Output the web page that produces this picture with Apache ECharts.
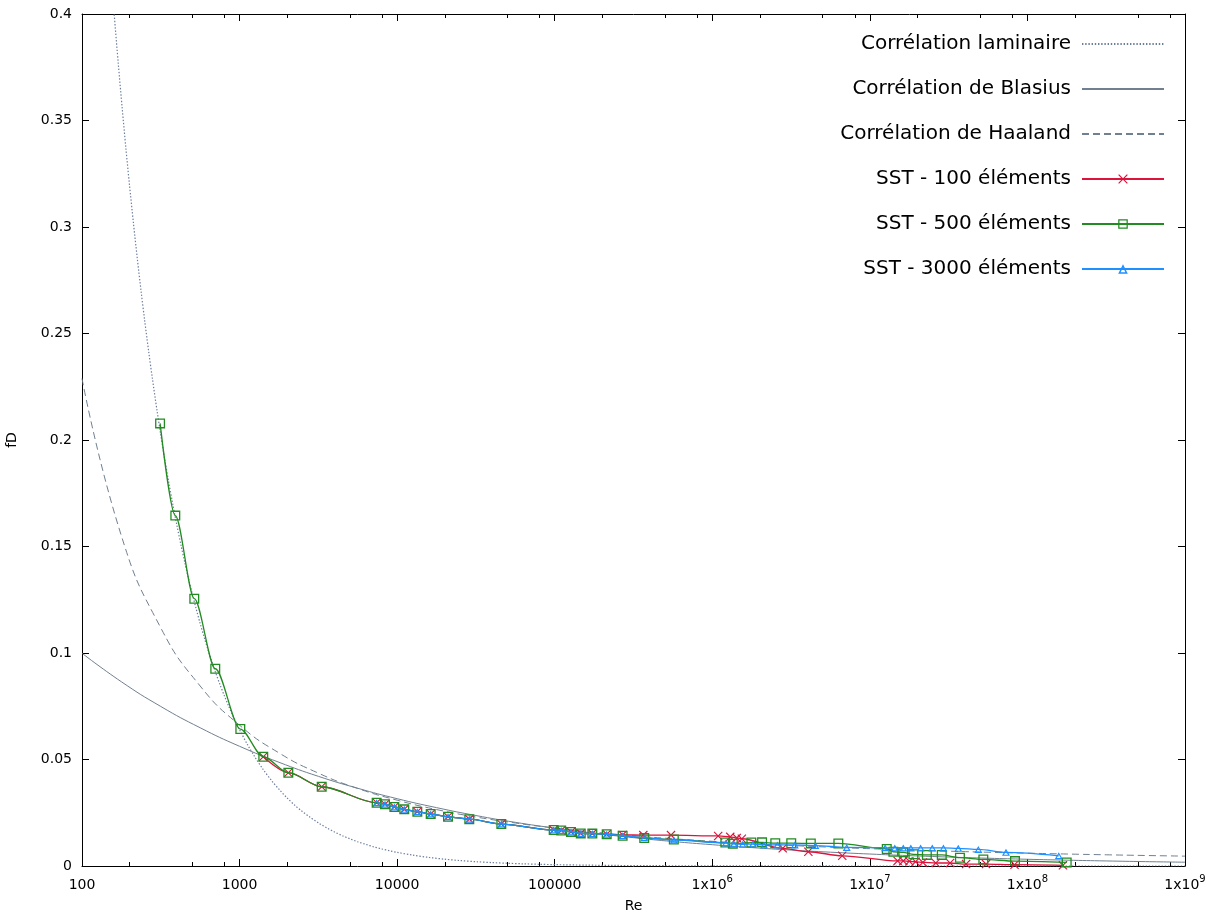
<!DOCTYPE html>
<html>
<head>
<meta charset="utf-8">
<title>Coefficient de frottement fD en fonction de Re</title>
<script src="https://cdn.jsdelivr.net/npm/echarts@6/dist/echarts.min.js"></script>
<style>
  html, body { margin: 0; padding: 0; background: #ffffff; }
  #chart { width: 1217px; height: 913px; }
</style>
</head>
<body>
<div id="chart"></div>
<script>
// Laminar correlation fD = 64/Re
const reLaminar = [150, 160, 170, 180, 190, 200, 212, 225, 237, 250, 265, 280, 300, 315, 335, 355, 375,
  400, 425, 450, 475, 500, 530, 560, 600, 630, 670, 710, 750, 800, 850, 900, 950,
  1000, 1120, 1250, 1400, 1600, 1800, 2000, 2250, 2500, 2800, 3200, 3600, 4000, 4500, 5000, 5600,
  6300, 7100, 8000, 9000, 10000, 12500, 16000, 20000, 25000, 32000, 40000, 50000, 63000, 80000,
  100000, 160000, 250000, 400000, 1000000, 10000000, 1000000000];
const fLaminar = [0.4267, 0.4, 0.3765, 0.3556, 0.3368, 0.32, 0.3019, 0.2844, 0.2700, 0.256, 0.2415,
  0.2286, 0.2133, 0.2032, 0.1910, 0.1803, 0.1707,
  0.16, 0.1506, 0.1422, 0.1347, 0.128, 0.1208, 0.1143, 0.1067, 0.1016, 0.0955, 0.0901, 0.0853, 0.08,
  0.0753, 0.0711, 0.0674,
  0.064, 0.0571, 0.0512, 0.0457, 0.04, 0.0356, 0.032, 0.0284, 0.0256, 0.0229, 0.02, 0.0178, 0.016,
  0.0142, 0.0128, 0.0114,
  0.0102, 0.0090, 0.008, 0.0071, 0.0064, 0.00512, 0.004, 0.0032, 0.00256, 0.0020, 0.0016, 0.00128,
  0.00102, 0.0008,
  0.00064, 0.0004, 0.000256, 0.00016, 0.000064, 0.0000064, 0];

// Turbulent correlations, sampled every quarter decade
const reCorr = [100, 177.8, 316.2, 562.3, 1000, 1778, 3162, 5623, 10000, 17783, 31623, 56234,
  100000, 177828, 316228, 562341, 1000000, 1778279, 3162278, 5623413, 10000000, 17782794,
  31622777, 56234133, 100000000, 177827941, 316227766, 562341325, 1000000000];
const fBlasius = [0.0999, 0.0865, 0.0749, 0.0649, 0.0562, 0.0487, 0.0421, 0.0365, 0.0316, 0.0274,
  0.0237, 0.0205, 0.0178, 0.0154, 0.0133, 0.0115, 0.0100, 0.00865, 0.00749, 0.00649, 0.00562,
  0.00487, 0.00421, 0.00365, 0.00316, 0.00274, 0.00237, 0.00205, 0.00178];
const fHaaland = [0.2289, 0.1550, 0.1118, 0.0845, 0.0661, 0.0531, 0.0436, 0.0364, 0.0309, 0.0265,
  0.0230, 0.0202, 0.0178, 0.0159, 0.0142, 0.0128, 0.0116, 0.0105, 0.00963, 0.00883, 0.00813,
  0.00751, 0.00696, 0.00646, 0.00602, 0.00562, 0.00526, 0.00493, 0.00463];

// SST simulations, 100 elements
const reSst100 = [1414, 2039, 3321, 7413, 8375, 9600, 11100, 13430, 16330, 21030, 28700, 45830,
  98500, 110000, 126900, 146300, 173300, 213800, 269800, 365000, 547000, 1090000, 1300000, 1430000,
  1540000, 2800000, 4070000, 6680000, 15000000, 16300000, 17800000, 19500000, 21700000, 26200000,
  32300000, 40800000, 54600000, 82800000, 168000000];
const fSst100 = [0.0513, 0.0438, 0.0372, 0.0297, 0.0290, 0.0277, 0.0266, 0.0255, 0.0244, 0.0231,
  0.0220, 0.0197, 0.0169, 0.0167, 0.0160, 0.0153, 0.0152, 0.0149, 0.0146, 0.0145, 0.0145, 0.0141,
  0.0137, 0.0132, 0.0128, 0.0083, 0.0067, 0.0048, 0.0024, 0.0024, 0.0022, 0.0020, 0.0017, 0.0014,
  0.0014, 0.0009, 0.0009, 0.0006, 0.0003];

// SST simulations, 500 elements
const reSst500 = [313, 391, 516, 701, 1011, 1414, 2039, 3321, 7413, 8375, 9600, 11100, 13430, 16330,
  21030, 28700, 45830, 98500, 110000, 126900, 146300, 173300, 213800, 269800, 370000, 570000,
  1210000, 1350000, 1770000, 2070000, 2510000, 3170000, 4220000, 6310000, 12800000, 14100000,
  16300000, 18900000, 23000000, 28600000, 37300000, 52500000, 83400000, 177500000];
const fSst500 = [0.2078, 0.1645, 0.1255, 0.0926, 0.0643, 0.0513, 0.0438, 0.0372, 0.0297, 0.0290,
  0.0277, 0.0266, 0.0255, 0.0244, 0.0231, 0.0220, 0.0197, 0.0169, 0.0167, 0.0160, 0.0153, 0.0152,
  0.0149, 0.0142, 0.0131, 0.0124, 0.0110, 0.0105, 0.0110, 0.0111, 0.0107, 0.0107, 0.0106, 0.0106,
  0.0080, 0.0067, 0.0064, 0.0055, 0.0052, 0.0052, 0.0039, 0.0031, 0.0023, 0.0017];

// SST simulations, 3000 elements
const reSst3000 = [7413, 8375, 9600, 11100, 13430, 16330, 21030, 28700, 45830, 98500, 110000, 126900,
  146300, 173300, 213800, 269800, 370000, 570000, 1220000, 1370000, 1560000, 1810000, 2130000,
  2590000, 3340000, 4510000, 7130000, 12500000, 14400000, 16300000, 18200000, 21000000, 24900000,
  29300000, 36400000, 48800000, 73100000, 158000000];
const fSst3000 = [0.0297, 0.0290, 0.0277, 0.0266, 0.0255, 0.0244, 0.0231, 0.0220, 0.0197, 0.0169,
  0.0167, 0.0160, 0.0153, 0.0152, 0.0149, 0.0142, 0.0133, 0.0122, 0.0108, 0.0104, 0.0102, 0.0103,
  0.0099, 0.0099, 0.0099, 0.0096, 0.0087, 0.0086, 0.0085, 0.0085, 0.0085, 0.0085, 0.0085, 0.0085,
  0.0083, 0.0078, 0.0064, 0.0048];

const seriesNames = ['Corrélation laminaire', 'Corrélation de Blasius', 'Corrélation de Haaland',
  'SST - 100 éléments', 'SST - 500 éléments', 'SST - 3000 éléments'];

// Bottom axis labels, one per decade
const xTickLabels = ['100', '1000', '10000', '100000', '1x10{e|6}', '1x10{e|7}', '1x10{e|8}', '1x10{e|9}'];
// Minor tick mantissas within each decade
const minorMantissas = [2, 5, 8];

const FONT = 'DejaVu Sans';
const GRAY = '#708090';
const DOT_GRAY = '#6a7d9c';
const RED = '#dc143c';
const GREEN = '#228b22';
const BLUE = '#1e90ff';

// Outline markers: fill rule leaves the inside transparent
const SYM_CROSS = 'path://M0,0.9 L0.9,0 L5,4.1 L9.1,0 L10,0.9 L5.9,5 L10,9.1 L9.1,10 L5,5.9 L0.9,10 L0,9.1 L4.1,5 Z';
const SYM_SQUARE = 'path://M0,0 L10,0 L10,10 L0,10 Z M1.3,1.3 L1.3,8.7 L8.7,8.7 L8.7,1.3 Z';
const SYM_TRIANGLE = 'path://M5,0 L10,8.66 L0,8.66 Z M5,2.9 L2.5,7.2 L7.5,7.2 Z';

const zip = (xs, ys) => xs.map((x, i) => [x, ys[i]]);

const minorTicks = [];
for (let d = 2; d < 9; d++) {
  minorMantissas.forEach(m => minorTicks.push([m * Math.pow(10, d), 0]));
}

const formatReLabel = v => {
  const s = xTickLabels[Math.round(Math.log10(v)) - 2] || '';
  return s.indexOf('{e|') >= 0 ? '{b|' + s.replace('{e|', '}{e|') : '{b|' + s + '}';
};

const chart = echarts.init(document.getElementById('chart'), null, { renderer: 'canvas' });

const axisCommonX = {
  type: 'log', logBase: 10, min: 100, max: 1e9,
  axisLine: { onZero: false, lineStyle: { color: '#000', width: 1 } },
  axisTick: { inside: true, length: 7, lineStyle: { color: '#000', width: 1 } },
  splitLine: { show: false },
  minorTick: { show: false }
};
const axisCommonY = {
  type: 'value', min: 0, max: 0.4, interval: 0.05,
  axisLine: { show: true, lineStyle: { color: '#000', width: 1 } },
  axisTick: { show: true, inside: true, length: 7, lineStyle: { color: '#000', width: 1 } },
  splitLine: { show: false }
};

const lineSeries = (name, re, f, extra) => Object.assign({
  name, type: 'line', data: zip(re, f), xAxisIndex: 0, yAxisIndex: 0,
  animation: false, clip: true
}, extra);

// Correlation curves have no marker; hide the legend's marker for them
const legendData = seriesNames.map((n, i) => i < 3 ? { name: n, itemStyle: { opacity: 0 } } : { name: n });

const option = {
  animation: false,
  backgroundColor: '#ffffff',
  textStyle: { fontFamily: FONT },
  grid: { left: 82, right: 32, top: 14, bottom: 47, containLabel: false, outerBoundsMode: 'none' },
  legend: {
    data: legendData,
    orient: 'vertical',
    align: 'right',
    right: 52,
    top: 34,
    padding: 0,
    itemWidth: 82,
    itemHeight: 12,
    itemGap: 25,
    selectedMode: false,
    textStyle: { fontSize: 20, color: '#000', fontFamily: FONT, padding: [0, 6, 0, 0] }
  },
  xAxis: [
    Object.assign({}, axisCommonX, {
      position: 'bottom',
      name: 'Re', nameLocation: 'middle', nameGap: 33,
      nameTextStyle: { fontSize: 14, color: '#000', fontFamily: FONT },
      axisLabel: {
        show: true, color: '#000', fontFamily: FONT, fontSize: 14, margin: 8,
        showMinLabel: true, showMaxLabel: true, hideOverlap: false,
        formatter: formatReLabel,
        rich: {
          b: { fontSize: 14, lineHeight: 22, color: '#000', fontFamily: FONT },
          e: { fontSize: 10, lineHeight: 10, verticalAlign: 'top', color: '#000', fontFamily: FONT }
        }
      }
    }),
    Object.assign({}, axisCommonX, { position: 'top', axisLabel: { show: false } })
  ],
  yAxis: [
    Object.assign({}, axisCommonY, {
      position: 'left',
      name: 'fD', nameLocation: 'middle', nameGap: 63, nameRotate: 90,
      nameTextStyle: { fontSize: 14, color: '#000', fontFamily: FONT },
      axisLabel: { color: '#000', fontFamily: FONT, fontSize: 14, margin: 10 }
    }),
    Object.assign({}, axisCommonY, { position: 'right', axisLabel: { show: false } })
  ],
  series: [
    {
      type: 'custom', silent: true, xAxisIndex: 0, yAxisIndex: 0,
      data: minorTicks, clip: false, z: 1,
      renderItem: (params, api) => {
        const x = Math.round(api.coord([api.value(0), 0])[0]) + 0.5;
        const top = params.coordSys.y;
        const bottom = params.coordSys.y + params.coordSys.height;
        return {
          type: 'group',
          children: [
            { type: 'line', shape: { x1: x, y1: bottom, x2: x, y2: bottom - 4 }, style: { stroke: '#000', lineWidth: 1 } },
            { type: 'line', shape: { x1: x, y1: top, x2: x, y2: top + 4 }, style: { stroke: '#000', lineWidth: 1 } }
          ]
        };
      }
    },
    lineSeries(seriesNames[0], reLaminar, fLaminar, {
      symbol: 'none', smooth: 0.3, z: 2,
      lineStyle: { color: DOT_GRAY, width: 1.2, type: [1.4, 1.8] }, itemStyle: { color: DOT_GRAY }
    }),
    lineSeries(seriesNames[1], reCorr, fBlasius, {
      symbol: 'none', smooth: 0.5, z: 2,
      lineStyle: { color: GRAY, width: 1, type: 'solid' }, itemStyle: { color: GRAY }
    }),
    lineSeries(seriesNames[2], reCorr, fHaaland, {
      symbol: 'none', smooth: 0.5, z: 2,
      lineStyle: { color: GRAY, width: 1, type: [7, 4] }, itemStyle: { color: GRAY }
    }),
    lineSeries(seriesNames[3], reSst100, fSst100, {
      symbol: SYM_CROSS, symbolSize: 9, smooth: 0.3, smoothMonotone: 'x', z: 3,
      lineStyle: { color: RED, width: 1.3 }, itemStyle: { color: RED }
    }),
    lineSeries(seriesNames[4], reSst500, fSst500, {
      symbol: SYM_SQUARE, symbolSize: 10, smooth: 0.3, smoothMonotone: 'x', z: 4,
      lineStyle: { color: GREEN, width: 1.3 }, itemStyle: { color: GREEN }
    }),
    lineSeries(seriesNames[5], reSst3000, fSst3000, {
      symbol: SYM_TRIANGLE, symbolSize: [8, 7], smooth: 0.3, smoothMonotone: 'x', z: 5,
      lineStyle: { color: BLUE, width: 1.3 }, itemStyle: { color: BLUE }
    })
  ]
};

chart.setOption(option);
</script>
</body>
</html>
